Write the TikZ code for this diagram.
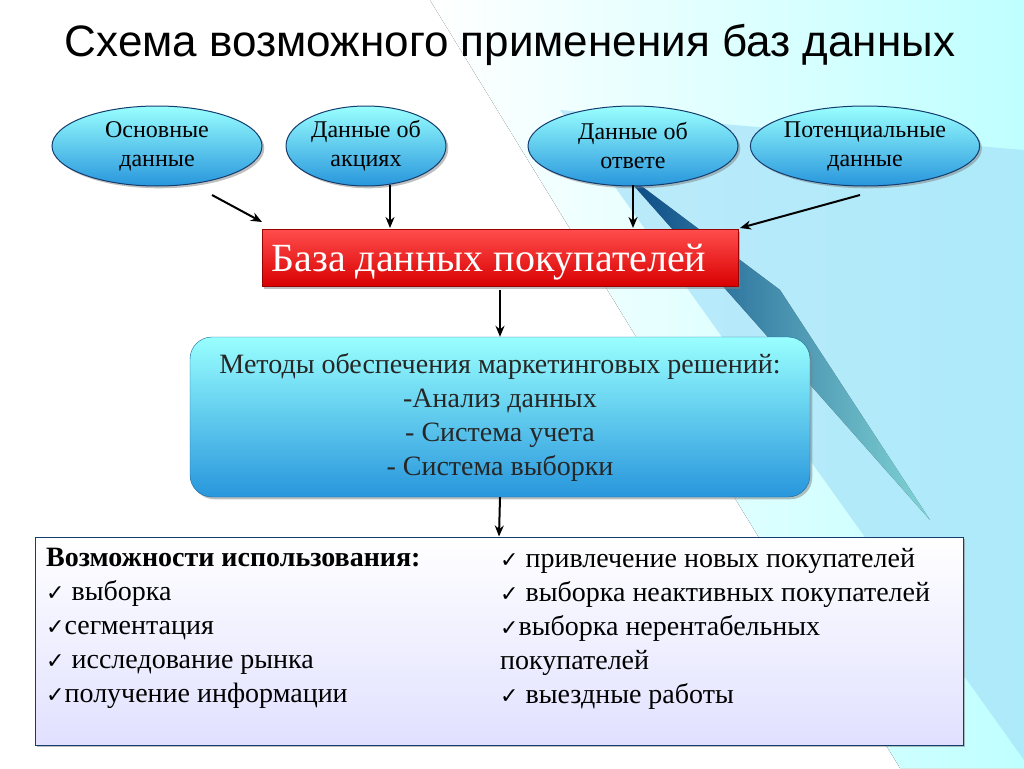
\documentclass[tikz,border=0pt]{standalone}
\usepackage{fontspec}
\setmainfont{Liberation Serif}
\newfontfamily\titlefont{Liberation Sans}
\newfontfamily\symfont{DejaVu Sans}
\newcommand{\ck}{{\symfont\fontsize{22}{26}\selectfont ✓}}
\usetikzlibrary{shapes.geometric,shadows,arrows.meta}
\definecolor{ecl}{RGB}{40,150,220}
\definecolor{edark}{RGB}{20,60,110}
\tikzset{
 oval/.style={ellipse,draw=edark,line width=1pt,top color=cyan!40!white,bottom color=ecl,minimum width=210pt,minimum height=80pt,inner sep=0pt,align=center,font=\fontsize{24}{29}\selectfont,drop shadow},
 arr/.style={-{Stealth[length=11pt,width=9pt]},line width=2pt,black}
}
\begin{document}
\begin{tikzpicture}[x=1pt,y=-1pt]
\useasboundingbox (0,0) rectangle (1024,768);
\fill[white] (0,0) rectangle (1024,768);
\fill[left color=white,right color=cyan!25] (430,0) -- (1024,0) -- (1024,768) -- (900,768) -- cycle;
\fill[cyan!35,opacity=0.7] (560,110) -- (1024,150) -- (1024,760) -- cycle;
\fill[left color=blue!50!cyan!60!black,right color=cyan!40,opacity=0.8] (620,170) -- (780,290) -- (930,520) -- cycle;
\node[font=\titlefont\fontsize{44}{50}\selectfont] (t) at (510,45) {Схема возможного применения баз данных};
\node[oval] (a) at (157,146) {Основные\\данные};
\node[oval,minimum width=160pt] (b) at (366,146) {Данные об\\акциях};
\node[oval] (c) at (633,146) {Данные об\\ответе};
\node[oval,minimum width=192pt] (d) at (865,146) {Потенциальные\\данные};
\node[draw=red!60!black,top color=red!70,bottom color=red!85!black,minimum width=476pt,minimum height=57pt,drop shadow] (db) at (500,258) {};
\node[font=\fontsize{40}{44}\selectfont,text=white,anchor=west] (dbt) at (268,262) {База данных покупателей};
\coordinate (sa) at (212,195); \coordinate (ta) at (262,222);
\coordinate (tb) at (390,228); \coordinate (tc) at (633,228); \coordinate (td) at (740,228);
\draw[arr] (sa) -- (ta);
\draw[arr] (390,185) coordinate (sb) -- (tb);
\draw[arr] (633,185) coordinate (sc) -- (tc);
\draw[arr] (860,195) coordinate (sd) -- (td);
\node[rounded corners=22pt,draw=ecl!70!black,top color=cyan!40!white,bottom color=ecl,minimum width=620pt,minimum height=160pt,drop shadow] (m) at (500,417) {};
\node[align=center,font=\fontsize{28}{34}\selectfont,text=black!85] (mt) at (500,417) {Методы обеспечения маркетинговых решений:\\-Анализ данных\\- Система учета\\- Система выборки};
\draw[arr] (db.south) ++(0,3) -- (m.north);
\node[draw=edark,line width=1pt,top color=white,bottom color=blue!12,minimum width=928pt,minimum height=208pt,drop shadow] (bx) at (499,641) {};
\draw[arr] (m.south) -- (bx.north);
\node[anchor=north west,align=left,font=\fontsize{28}{34}\selectfont,inner sep=0pt] (l) at (46,548) {\textbf{Возможности использования:}\\\ck{} выборка\\\ck сегментация\\\ck{} исследование рынка\\\ck получение информации};
\node[anchor=north west,align=left,font=\fontsize{28}{34}\selectfont,inner sep=0pt] (r) at (500,548) {\ck{} привлечение новых покупателей\\\ck{} выборка неактивных покупателей\\\ck выборка нерентабельных\\покупателей\\\ck{} выездные работы};
\end{tikzpicture}
\end{document}
